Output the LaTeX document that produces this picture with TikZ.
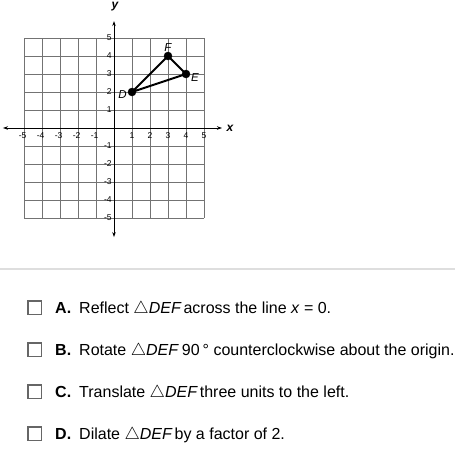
\documentclass[tikz,border=0pt]{standalone}
\usepackage{fontspec}
\setmainfont{Liberation Sans}
\usepackage{tkz-euclide}
\usetikzlibrary{arrows.meta,positioning}

\tikzset{
  planegrid/.style={draw=black!55, line width=0.8pt},
  axisline/.style={black, line width=0.8pt, {Stealth[length=5pt,width=3.5pt]}-{Stealth[length=5pt,width=3.5pt]}},
  ticklbl/.style={font=\fontsize{8.5}{9}\selectfont, inner sep=0pt},
  axislbl/.style={font=\fontsize{12}{13}\selectfont\bfseries\itshape, inner sep=0pt},
  ptlbl/.style={font=\fontsize{11.5}{12}\selectfont\itshape, inner sep=0pt},
  sepline/.style={black!13, line width=1.2pt},
  chkbox/.style={draw=black!60, line width=1.5pt, minimum size=13.5pt, inner sep=0pt},
  opttext/.style={font=\fontsize{16}{18}\selectfont, inner sep=0pt, text height=11.5pt, text depth=0pt}
}

\begin{document}
\begin{tikzpicture}[x=1pt,y=1pt]
    \useasboundingbox (0,0) rectangle (455,-463);
    % coordinate plane
    \begin{scope}[shift={(114,-128)},x=18pt,y=18pt]
    \foreach \i in {-5,...,5} {
        \path[planegrid] (\i,-5) -- (\i,5);
    }
    \foreach \j in {-5,...,5} {
        \path[planegrid] (-5,\j) -- (5,\j);
    }
    \coordinate (xmin) at (-6.17,0);
    \coordinate (xmax) at (6,0);
    \coordinate (ymin) at (0,-6.06);
    \coordinate (ymax) at (0,5.94);
    \draw[axisline] (xmin) -- (xmax);
    \draw[axisline] (ymin) -- (ymax);
    \node[axislbl] (xlbl) at (6.44,0) {x};
    \node[axislbl] (ylbl) at (0.06,6.72) {y};
    \foreach \i in {1,...,5} {
        \node[ticklbl] (xp\i) at (\i,-0.4) {\i};
        \node[ticklbl] (xn\i) at (-\i,-0.4) {\llap{-}\i};
        \node[ticklbl, anchor=east] (yp\i) at (-0.12,\i) {\i};
        \node[ticklbl, anchor=east] (yn\i) at (-0.12,-\i) {-\i};
    }
    % triangle DEF
    \tkzDefPoints{1/2/D,4/3/E,3/4/F}
    \tkzDrawPolygon[line width=2pt](D,E,F)
    \tkzDrawPoints[fill=black,size=8pt](D,E,F)
    \tkzLabelPoint[ptlbl,above=4.5pt](F){F}
    \tkzLabelPoint[ptlbl,right=5pt,yshift=-4pt](E){E}
    \tkzLabelPoint[ptlbl,left=5pt,yshift=-3pt](D){D}
    \end{scope}

    \draw[sepline] (0,-269) -- (455,-269);

    % answer choices
    \node[chkbox] (boxA) at (34.5,-307.5) {};
    \node[chkbox] (boxB) [below=27pt of boxA] {};
    \node[chkbox] (boxC) [below=27pt of boxB] {};
    \node[chkbox] (boxD) [below=27pt of boxC] {};
    \node[opttext, right=13pt of boxA] (optA) {\textbf{A.}\hspace{8pt}Reflect $\triangle$\textit{DEF}\hspace{2pt}across the line \textit{x} = 0.};
    \node[opttext, right=13pt of boxB] (optB) {\textbf{B.}\hspace{8pt}Rotate $\triangle$\textit{DEF}\hspace{3pt}90\hspace{3pt}° counterclockwise about the origin.};
    \node[opttext, right=13pt of boxC] (optC) {\textbf{C.}\hspace{8pt}Translate $\triangle$\textit{DEF}\hspace{2pt}three units to the left.};
    \node[opttext, right=13pt of boxD] (optD) {\textbf{D.}\hspace{8pt}Dilate $\triangle$\textit{DEF}\hspace{2pt}by a factor of 2.};
\end{tikzpicture}
\end{document}
